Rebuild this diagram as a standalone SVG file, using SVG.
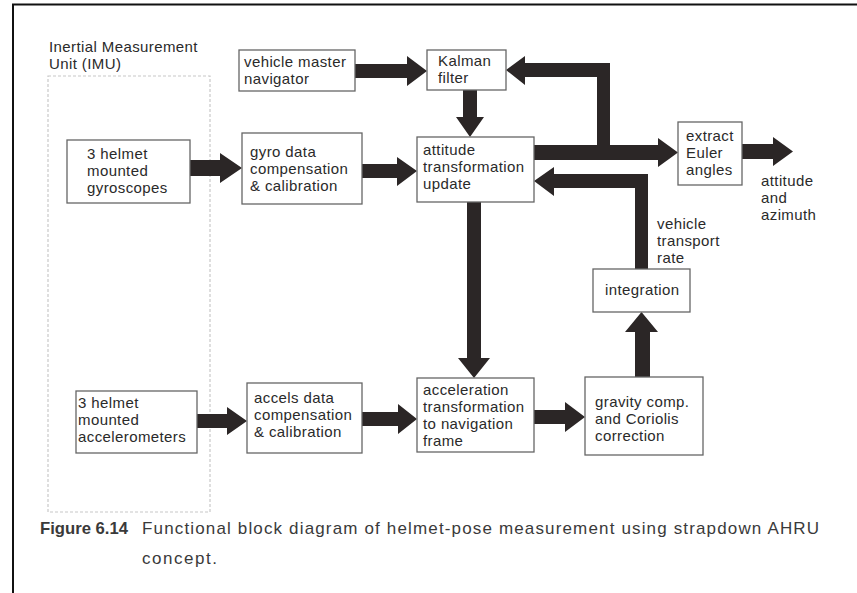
<svg xmlns="http://www.w3.org/2000/svg" width="857" height="593" viewBox="0 0 857 593">
<style>
.box{fill:#fff;stroke:#666;stroke-width:1.3}
.t{font-family:"Liberation Sans",Arial,sans-serif;font-size:15px;fill:#2a2a2a;letter-spacing:0.4px}
.cap{font-family:"Liberation Sans",Arial,sans-serif;font-size:17px;fill:#3a3a3a}
.arr{fill:#2b2626}
</style>
<rect x="0" y="0" width="857" height="593" fill="#fff"/>
<path d="M13 593 V4.5 H857" fill="none" stroke="#111" stroke-width="2"/>

<g id="imu">
<rect x="48" y="76" width="162" height="436" fill="none" stroke="#c8c8c8" stroke-width="1.2" stroke-dasharray="3 2"/>
<text class="t" x="49" y="52">Inertial Measurement</text>
<text class="t" x="49" y="69">Unit (IMU)</text>
</g>

<g id="connectors">
<polygon class="arr" points="355,64 407,64 407,56 427,71 407,86 407,78 355,78"/>
<polygon class="arr" points="463,90 477,90 477,117 484,117 470,137 456,117 463,117"/>
<polygon class="arr" points="190,160 220,160 220,153 242,168 220,183 220,176 190,176"/>
<polygon class="arr" points="362,164 397,164 397,157 417,171 397,186 397,178 362,178"/>
<polygon class="arr" points="506,70 525,56 525,63 610,63 610,145 658,145 658,138 678,152.5 658,167 658,160 534,160 534,145 597,145 597,77 525,77 525,85"/>
<polygon class="arr" points="742,144 773,144 773,137 793,151.5 773,166 773,159 742,159"/>
<polygon class="arr" points="534,181 554,167 554,174 648,174 648,269 635,269 635,188 554,188 554,196"/>
<polygon class="arr" points="467,202 481,202 481,358 490,358 474,378 458,358 467,358"/>
<polygon class="arr" points="197,414 227,414 227,407 247,421 227,435 227,428 197,428"/>
<polygon class="arr" points="362,412 398,412 398,404 417,419 398,434 398,426 362,426"/>
<polygon class="arr" points="534,410 565,410 565,402 585,417 565,432 565,424 534,424"/>
<polygon class="arr" points="635,377 635,332 625,332 641.5,312 658,332 650,332 650,377"/>
</g>

<g id="vmn">
<rect class="box" x="239" y="50" width="116" height="41"/>
<text class="t" x="244" y="67">vehicle master</text>
<text class="t" x="244" y="84">navigator</text>
</g>
<g id="kalman">
<rect class="box" x="427" y="50" width="79" height="40"/>
<text class="t" x="438" y="66">Kalman</text>
<text class="t" x="438" y="83">filter</text>
</g>
<g id="gyros">
<rect class="box" x="67" y="140" width="123" height="63"/>
<text class="t" x="87" y="159">3 helmet</text>
<text class="t" x="87" y="176">mounted</text>
<text class="t" x="87" y="193">gyroscopes</text>
</g>
<g id="gyrodata">
<rect class="box" x="242" y="133" width="120" height="71"/>
<text class="t" x="250" y="157">gyro data</text>
<text class="t" x="250" y="174">compensation</text>
<text class="t" x="250" y="191">&amp; calibration</text>
</g>
<g id="attitude">
<rect class="box" x="417" y="137" width="117" height="65"/>
<text class="t" x="423" y="155">attitude</text>
<text class="t" x="423" y="172">transformation</text>
<text class="t" x="423" y="189">update</text>
</g>
<g id="euler">
<rect class="box" x="678" y="122" width="64" height="63"/>
<text class="t" x="686" y="141">extract</text>
<text class="t" x="686" y="158">Euler</text>
<text class="t" x="686" y="175">angles</text>
</g>
<g id="output-label">
<text class="t" x="761" y="186">attitude</text>
<text class="t" x="761" y="203">and</text>
<text class="t" x="761" y="220">azimuth</text>
</g>
<g id="transport-label">
<text class="t" x="657" y="229">vehicle</text>
<text class="t" x="657" y="246">transport</text>
<text class="t" x="657" y="263">rate</text>
</g>
<g id="integration">
<rect class="box" x="593" y="269" width="97" height="43"/>
<text class="t" x="605" y="295">integration</text>
</g>
<g id="accelerometers">
<rect class="box" x="76" y="391" width="121" height="62"/>
<text class="t" x="78" y="408">3 helmet</text>
<text class="t" x="78" y="425">mounted</text>
<text class="t" x="78" y="442">accelerometers</text>
</g>
<g id="accelsdata">
<rect class="box" x="247" y="383" width="115" height="70"/>
<text class="t" x="254" y="403">accels data</text>
<text class="t" x="254" y="420">compensation</text>
<text class="t" x="254" y="437">&amp; calibration</text>
</g>
<g id="acceleration">
<rect class="box" x="417" y="378" width="117" height="74"/>
<text class="t" x="423" y="395">acceleration</text>
<text class="t" x="423" y="412">transformation</text>
<text class="t" x="423" y="429">to navigation</text>
<text class="t" x="423" y="446">frame</text>
</g>
<g id="gravity">
<rect class="box" x="585" y="377" width="118" height="78"/>
<text class="t" x="595" y="407">gravity comp.</text>
<text class="t" x="595" y="424">and Coriolis</text>
<text class="t" x="595" y="441">correction</text>
</g>

<g id="caption">
<text class="cap" x="40" y="534" font-weight="bold" fill="#222" textLength="88" lengthAdjust="spacingAndGlyphs">Figure 6.14</text>
<text class="cap" x="142" y="534" textLength="677" lengthAdjust="spacing">Functional block diagram of helmet-pose measurement using strapdown AHRU</text>
<text class="cap" x="142" y="564" textLength="75" lengthAdjust="spacing">concept.</text>
</g>
</svg>
